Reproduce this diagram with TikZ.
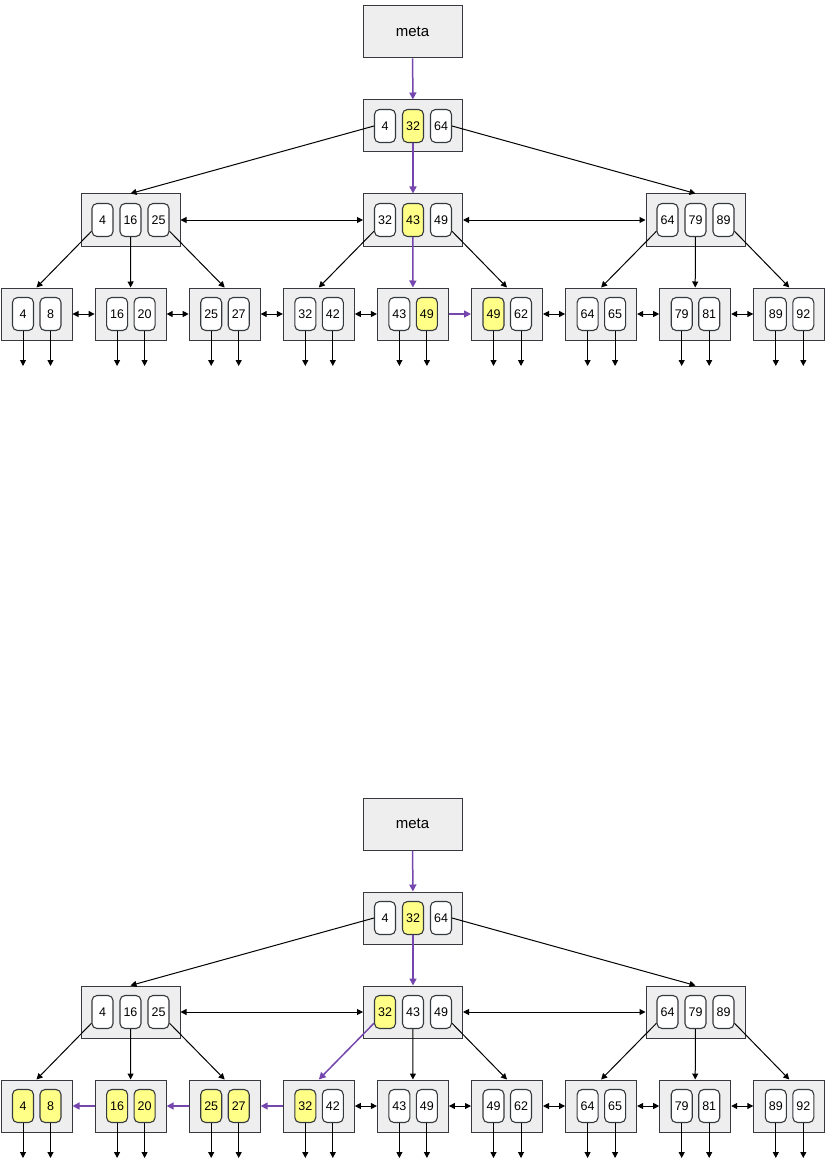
\documentclass[tikz,border=0pt]{standalone}
\usepackage{fontspec}
\setmainfont{Liberation Sans}
\definecolor{btGray}{HTML}{EEEEEE}
\definecolor{btLine}{HTML}{36393D}
\definecolor{btHit}{HTML}{FFFF88}
\definecolor{btPath}{HTML}{7446AE}
\usetikzlibrary{arrows.meta}

\begin{document}
\begin{tikzpicture}[x=1pt, y=-1pt, line width=1pt,
  page/.style={draw=btLine, fill=btGray, minimum width=99pt,
               minimum height=52pt, inner sep=0pt},
  leaf/.style={page, minimum width=71pt},
  key/.style={draw=btLine, fill=white, rounded corners=5pt, line width=1.1pt,
              minimum width=21pt, minimum height=33pt, inner sep=0pt,
              font=\fontsize{12.5}{14}\selectfont},
  hit/.style={fill=btHit},
  arr/.style={-{Triangle[length=6pt,width=6pt]}, black},
  sib/.style={{Triangle[length=6pt,width=6pt]}-{Triangle[length=6pt,width=6pt]}, black},
  walk/.style={-{Triangle[length=7pt,width=7pt]}, btPath, line width=1.5pt}
]
\useasboundingbox (0,0) rectangle (830,1161);

% lookup of 49
\begin{scope}[name prefix=a-]
\node[page] (meta) at (412.5,32) {\fontsize{15}{18}\selectfont meta};
\node[page] (root) at (413,126) {};
\node[key]      (root-1) at (385,126) {4};
\node[key, hit] (root-2) at (413,126) {32};
\node[key]      (root-3) at (441,126) {64};
\foreach \n/\cx/\ka/\fa/\kb/\fb/\kc/\fc in {
    1/130.5/4/white/16/white/25/white,
    2/413/32/white/43/btHit/49/white,
    3/695.5/64/white/79/white/89/white} {
  \node[page] (in\n) at (\cx,220) {};
  \node[key, fill=\fa] (in\n-1) at (\cx-28,220) {\ka};
  \node[key, fill=\fb] (in\n-2) at (\cx,220) {\kb};
  \node[key, fill=\fc] (in\n-3) at (\cx+28,220) {\kc};
}
\foreach \i/\ka/\fa/\kb/\fb in {
    1/4/white/8/white, 2/16/white/20/white, 3/25/white/27/white,
    4/32/white/42/white, 5/43/white/49/btHit, 6/49/btHit/62/white,
    7/64/white/65/white, 8/79/white/81/white, 9/89/white/92/white} {
  \node[leaf] (lf\i) at ({36.5+94.1*(\i-1)},314) {};
  \node[key, fill=\fa] (lf\i-1) at ({23+94.1*(\i-1)},314) {\ka};
  \node[key, fill=\fb] (lf\i-2) at ({50.5+94.1*(\i-1)},314) {\kb};
  \coordinate (lf\i-1-end) at ({23+94.1*(\i-1)},366);
  \coordinate (lf\i-2-end) at ({50.5+94.1*(\i-1)},366);
  \draw[arr] (lf\i-1) -- (lf\i-1-end);
  \draw[arr] (lf\i-2) -- (lf\i-2-end);
}
\draw[walk] (meta) -- (root);
\draw[arr] (root-1.west) -- (in1.north);
\draw[walk] (root-2) -- (in2.north);
\draw[arr] (root-3.east) -- (in3.north);
\draw[sib] (in1) -- (in2);
\draw[sib] (in2) -- (in3);
\foreach \n/\k/\l in {1/1/1, 1/2/2, 1/3/3, 2/1/4, 2/3/6, 3/1/7, 3/2/8, 3/3/9}
  \draw[arr] (in\n-\k) -- (lf\l.north);
\draw[walk] (in2-2) -- (lf5.north);
\foreach \l/\r in {1/2, 2/3, 3/4, 4/5, 6/7, 7/8, 8/9}
  \draw[sib] (lf\l) -- (lf\r);
\draw[walk] (lf5) -- (lf6);
\end{scope}

% scan back from 32
\begin{scope}[name prefix=b-, shift={(0,792)}]
\node[page] (meta) at (412.5,32) {\fontsize{15}{18}\selectfont meta};
\node[page] (root) at (413,126) {};
\node[key]      (root-1) at (385,126) {4};
\node[key, hit] (root-2) at (413,126) {32};
\node[key]      (root-3) at (441,126) {64};
\foreach \n/\cx/\ka/\fa/\kb/\fb/\kc/\fc in {
    1/130.5/4/white/16/white/25/white,
    2/413/32/btHit/43/white/49/white,
    3/695.5/64/white/79/white/89/white} {
  \node[page] (in\n) at (\cx,220) {};
  \node[key, fill=\fa] (in\n-1) at (\cx-28,220) {\ka};
  \node[key, fill=\fb] (in\n-2) at (\cx,220) {\kb};
  \node[key, fill=\fc] (in\n-3) at (\cx+28,220) {\kc};
}
\foreach \i/\ka/\fa/\kb/\fb in {
    1/4/btHit/8/btHit, 2/16/btHit/20/btHit, 3/25/btHit/27/btHit,
    4/32/btHit/42/white, 5/43/white/49/white, 6/49/white/62/white,
    7/64/white/65/white, 8/79/white/81/white, 9/89/white/92/white} {
  \node[leaf] (lf\i) at ({36.5+94.1*(\i-1)},314) {};
  \node[key, fill=\fa] (lf\i-1) at ({23+94.1*(\i-1)},314) {\ka};
  \node[key, fill=\fb] (lf\i-2) at ({50.5+94.1*(\i-1)},314) {\kb};
  \coordinate (lf\i-1-end) at ({23+94.1*(\i-1)},366);
  \coordinate (lf\i-2-end) at ({50.5+94.1*(\i-1)},366);
  \draw[arr] (lf\i-1) -- (lf\i-1-end);
  \draw[arr] (lf\i-2) -- (lf\i-2-end);
}
\draw[walk] (meta) -- (root);
\draw[arr] (root-1.west) -- (in1.north);
\draw[walk] (root-2) -- (in2.north);
\draw[arr] (root-3.east) -- (in3.north);
\draw[sib] (in1) -- (in2);
\draw[sib] (in2) -- (in3);
\foreach \n/\k/\l in {1/1/1, 1/2/2, 1/3/3, 2/2/5, 2/3/6, 3/1/7, 3/2/8, 3/3/9}
  \draw[arr] (in\n-\k) -- (lf\l.north);
\draw[walk] (in2-1) -- (lf4.north);
\foreach \l/\r in {4/5, 5/6, 6/7, 7/8, 8/9}
  \draw[sib] (lf\l) -- (lf\r);
\draw[walk] (lf4) -- (lf3);
\draw[walk] (lf3) -- (lf2);
\draw[walk] (lf2) -- (lf1);
\end{scope}
\end{tikzpicture}
\end{document}
